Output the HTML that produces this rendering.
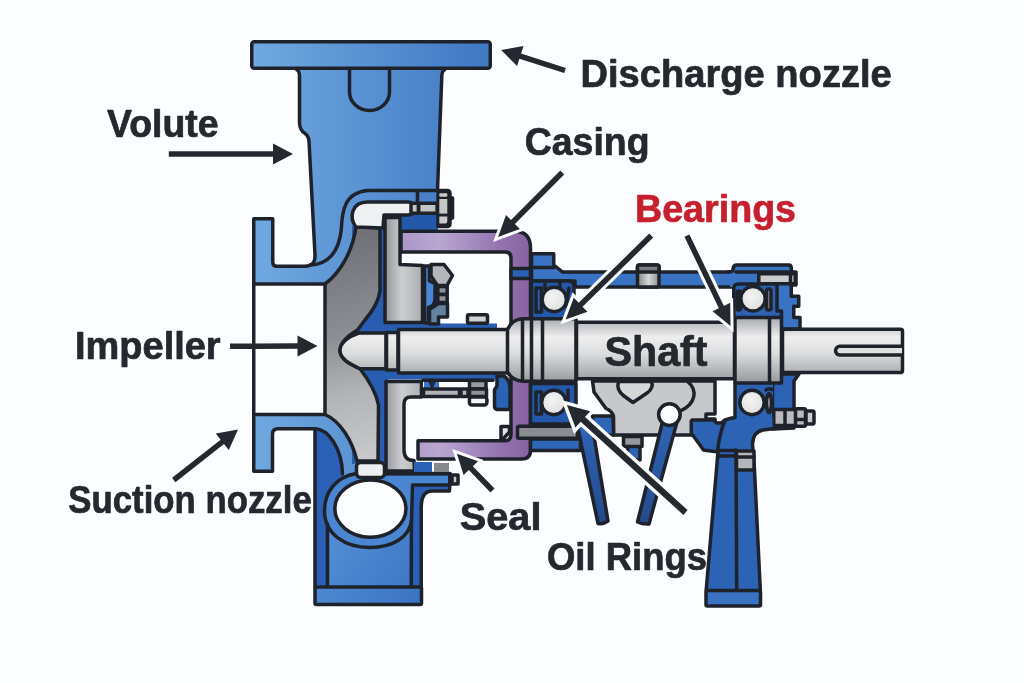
<!DOCTYPE html>
<html lang="en">
<head>
<meta charset="utf-8">
<title>Centrifugal pump cross-section</title>
<style>
html,body{margin:0;padding:0;background:#fcfdfe;}
body{width:1024px;height:683px;overflow:hidden;}
svg{display:block;will-change:transform;}
text{font-family:"Liberation Sans",sans-serif;font-weight:700;fill:#24282f;stroke-width:0.7;stroke-linejoin:round;}
.s{stroke:#1e232b;stroke-width:3.5;stroke-linejoin:round;stroke-linecap:round;}
.n{fill:none;}
</style>
</head>
<body>
<svg width="1024" height="683" viewBox="0 0 1024 683">
<defs>
<linearGradient id="gb" gradientUnits="userSpaceOnUse" x1="250" y1="0" x2="495" y2="0">
<stop offset="0" stop-color="#71a9e0"/><stop offset="1" stop-color="#3e77c3"/>
</linearGradient>
<linearGradient id="gb2" gradientUnits="userSpaceOnUse" x1="300" y1="500" x2="430" y2="600">
<stop offset="0" stop-color="#5b98dc"/><stop offset="1" stop-color="#3a72c2"/>
</linearGradient>
<linearGradient id="gsh" gradientUnits="userSpaceOnUse" x1="0" y1="318" x2="0" y2="382">
<stop offset="0" stop-color="#a9abaf"/><stop offset="0.3" stop-color="#eeeeef"/><stop offset="0.55" stop-color="#dcddde"/><stop offset="1" stop-color="#989a9e"/>
</linearGradient>
<linearGradient id="gimp" gradientUnits="userSpaceOnUse" x1="330" y1="230" x2="380" y2="460">
<stop offset="0" stop-color="#6d6f75"/><stop offset="0.45" stop-color="#8c8e93"/><stop offset="0.7" stop-color="#b2b4b7"/><stop offset="1" stop-color="#c8cacd"/>
</linearGradient>
<linearGradient id="gpl" gradientUnits="userSpaceOnUse" x1="385" y1="0" x2="423" y2="0">
<stop offset="0" stop-color="#94969a"/><stop offset="0.45" stop-color="#cdced0"/><stop offset="1" stop-color="#a9abae"/>
</linearGradient>
<linearGradient id="gpu" gradientUnits="userSpaceOnUse" x1="400" y1="0" x2="531" y2="0">
<stop offset="0" stop-color="#ab96c8"/><stop offset="0.3" stop-color="#b9a7d2"/><stop offset="0.75" stop-color="#9475b0"/><stop offset="1" stop-color="#86629f"/>
</linearGradient>
<radialGradient id="gball" cx="0.45" cy="0.4" r="0.7">
<stop offset="0" stop-color="#f4f4f4"/><stop offset="0.7" stop-color="#e2e3e4"/><stop offset="1" stop-color="#b8b9bc"/>
</radialGradient>
</defs>
<rect width="1024" height="683" fill="#fcfdfe"/>
<g id="casing">
<!-- blue body: neck + casing wall + suction flange upper -->
<path fill="url(#gb)" d="M299.5,69 L299.5,123 Q300,130.5 304.5,133 Q308.5,135.5 309,141 L315,255 Q315.5,266.25 305,266.25 L277,266.25 Q272.75,266.25 272.75,262 L272.75,218.75 L253.75,218.75 L253.75,284 L325,284 L386,284 L386,203 L438,203 L437.5,190.5 L442,69 Z"/>
<!-- stand dark body -->
<path fill="#2a60b6" d="M315,428.75 L345,428.75 L400,470 L450,473.75 L450,491 L432,491 Q421.25,492 421.25,507.5 L421.25,587 L315,587 Z"/>
<!-- lower suction flange + lower casing band -->
<path fill="url(#gb)" d="M253.75,414.5 L325,414.5 C340,420 352,440 357,462 L384,462 L384,474 L450,474 L450,484 L415,484 L343,480 L342.5,473 C342,455 336,440 325,431 Q320,428.75 315,428.75 L278,428.75 Q272.5,428.75 272.5,434 L272.5,471.25 L253.75,471.25 Z"/>
<path fill="url(#gb2)" d="M327.5,520 L411.25,520 L411.25,587 L327.5,587 Z"/>
<!-- ring -->
<path fill="#4a86d1" class="s" d="M356,473.5 C336,477 324.5,492 324.5,511 C324.5,534 345,547.5 370,547.5 C393,547.5 409,537 411.5,521 L412.5,485 L450,485 L450,473.5 Z"/>
<ellipse cx="370.4" cy="508.6" rx="35.6" ry="28.6" fill="#fcfdfe" class="s"/>
<!-- dark blue behind impeller -->
<rect x="352" y="226" width="36" height="238" fill="#295db2"/>
<rect x="385" y="323.5" width="112" height="56" fill="#295db2"/>
<!-- dark blue right of back plate top -->
<rect x="399" y="203" width="39" height="29" fill="#2458aa"/>
<rect x="414" y="191" width="24" height="13" fill="#4a80ca"/>
<!-- outlines -->
<rect x="251.75" y="41.75" width="238.5" height="26.5" rx="2.5" fill="url(#gb)" class="s"/>
<path class="s n" d="M297,70 Q299.5,71 299.5,76 L299.5,123 Q300,130.5 304.5,133 Q308.5,135.5 309,141 L315,255 Q315.5,266.25 305,266.25 L277,266.25 Q272.75,266.25 272.75,262 L272.75,218.75 L253.75,218.75 L253.75,471.25 L272.5,471.25 L272.5,434 Q272.5,428.75 278,428.75 L315,428.75 L315,587"/>
<path class="s n" d="M444.5,70 Q442,71 441.8,76 L437.5,190.5"/>
<path class="s n" d="M349.5,69 L349.5,92 A20,18.5 0 0 0 389.5,92 L389.5,69"/>
<path class="s n" d="M310,265 C327.5,265 338.75,252.5 341.25,230 C342,210 345,192.5 367.5,190.5 L437.5,190.5"/>
<path class="s n" d="M253.75,284 L325,284"/>
<path class="s n" d="M253.75,414.5 L325,414.5"/>
<path class="s n" d="M315,428.75 C328,429 342,448 342.5,474"/>
<path class="s n" d="M327.5,524 L327.5,587 M411.4,520 L411.25,587"/>
<path class="s n" d="M421.25,587 L421.25,507.5 Q421.25,491 432,491 L449.5,491 L450,473.75 L385,473.75"/>

<rect x="315" y="587" width="106.5" height="17.5" rx="1.5" fill="url(#gb2)" class="s"/>
</g>
<g id="impeller">
<!-- impeller -->
<path fill="url(#gimp)" class="s" d="M325,284 C341,272 353,250 356,226.5 L380,228 L380,291 C378.5,303 371,313 365,320 L357.5,330 C349,335 340,342 340,350.6 C340,359 350,364 360,368.75 C368.75,380 376,392.5 378.5,405 L378,461 L357,461 C352,440 340,421 325,414.5 Z"/>
<!-- white cavity top -->
<path fill="#eef0f1" class="s" d="M356,227 C349,218 351,202 367.5,202 L408,202 Q413.5,202 413.5,208.5 Q413.5,215 408,215 L384,215 L383,228 Z"/>
<!-- wear ring bottom -->
<rect x="356.5" y="462.5" width="28" height="15" rx="4" fill="#eceeef" class="s"/>
<!-- back plate upper -->
<path fill="url(#gpl)" class="s" d="M385,217.5 L400,217.5 L400,264.5 L422.5,265.5 L422.5,322.5 L385,322.5 Z"/>
<!-- back plate lower -->
<path fill="url(#gpl)" class="s" d="M386,381.5 L421.5,381.5 L421.5,397 L411,397 Q404,397 404,404 L404,450 Q404,460.5 414,460.5 L414.5,471 L386,471 Z"/>
<!-- bolt -->
<rect x="411" y="203.2" width="7.4" height="10" fill="#c4c6c8" class="s" stroke-width="2.6"/>
<rect x="418.7" y="203.2" width="18.4" height="10" fill="#c0c4c2" class="s" stroke-width="2.6"/>
<path class="s n" d="M417.5,191 L417.5,201.5"/>
<path fill="#1e232b" class="s" d="M438,190.5 L447,190.5 Q450,190.5 450,193.5 L450,197.5 L452.5,198 L452.5,218 L450,218.5 L450,223.5 Q450,226.5 447,226.5 L438,226.5 Z"/>
<rect x="439.3" y="193.2" width="8" height="3.6" rx="1" fill="#c9cbcd"/>
<rect x="439.3" y="199" width="8" height="14.6" fill="#c4c6c8"/>
<path fill="#c9cbcd" d="M439.3,216.6 L447.3,216.6 L447.3,221 Q447.3,223.6 444.5,223.6 L439.3,223.6 Z"/>
</g>
<g id="purple">
<path fill="url(#gpu)" class="s" d="M401,231.25 H514 Q530.5,231.25 530.5,248 V450 Q530.5,459 522,459 H418 V440.8 H505 Q511,440.8 511,434 V258 Q511,252 505,252 H401 Z"/>
<rect x="511" y="268.5" width="19.5" height="10" fill="#2c60b4" class="s"/>
<!-- seal gland upper -->
<path fill="#4a86d6" class="s" stroke-width="3" d="M424.5,266 L429.5,266 L429.5,281 L435,283.5 L435,299 Q434.5,306 428.5,307.5 L428.5,323 L424.5,323 Z"/>
<path fill="#64829f" class="s" stroke-width="3" d="M429.5,309 Q436,306 437.5,303.5 L447.5,303.5 L447.5,317 L438.5,317 L438.5,324 L429.5,324 Z"/>
<path fill="#b4b6b9" class="s" stroke-width="3" d="M431,264.5 L444,264.5 L452.5,275.5 L447,285.5 L437.5,285.5 L431,276 Z"/>
<rect x="437.8" y="286.5" width="9.4" height="8" fill="#8f9196" class="s" stroke-width="2.6"/>
<rect x="437.8" y="294.5" width="9.4" height="8" fill="#8f9196" class="s" stroke-width="2.6"/>
<rect x="467.5" y="314.8" width="20" height="8.5" rx="1.5" fill="#d0d2d4" class="s" stroke-width="3"/>
<!-- seal parts lower -->
<rect x="423" y="380" width="64" height="8" fill="#fcfdfe"/>
<path fill="#3d76c8" d="M424,381 h15 v7 h-15 Z"/>
<path fill="#1e232b" d="M428,381 l3,7 h2 l3,-7 Z" opacity="0.9"/>
<rect x="423.5" y="389" width="36" height="7.5" fill="#b0b2b6" class="s" stroke-width="2.6"/>
<rect x="461" y="389" width="7" height="7.5" fill="#b8babd" class="s" stroke-width="2.4"/>
<rect x="469.5" y="380.5" width="16.5" height="8.5" fill="#9a9ca1" class="s" stroke-width="2.6"/>
<rect x="469.5" y="389" width="17" height="7.5" fill="#8f9196" class="s" stroke-width="2.6"/>
<rect x="469.4" y="397" width="17.5" height="8" rx="2.5" fill="#f4f5f6" class="s" stroke-width="2.6"/>
<path class="s n" stroke-width="2.6" d="M423,380.3 L493,380.3"/>
<path fill="#2c62b4" class="s" stroke-width="3" d="M497,376 L504,376 Q510,380 510,388 L510,409.5 L497,409.5 Q494.5,409 494.5,406 L494.5,390 L497,386 Z"/>
<path fill="#e4e5e7" class="s" stroke-width="2.6" d="M501,426.5 L509.5,426.5 L509.5,432 L503,439 L501,439 Z"/>
<!-- under purple bottom -->
<rect x="414" y="462" width="18" height="10" fill="#2c60b4"/>
<rect x="434" y="463" width="15" height="9" fill="#85878c"/>
<rect x="452" y="475" width="6" height="9" fill="#c9cbcd" class="s" stroke-width="2.5"/>
</g>
<g id="housing">
<!-- left top box + band -->
<path fill="#3a72c4" class="s" d="M531.5,253.75 L553.75,253.75 L553.75,265 L562.5,272 L733,272 L733,287 L575,287 L575,281 L531.5,281 Z"/>
<path class="s n" d="M531.5,267.5 L553.75,267.5"/>
<!-- bearing box 1 upper -->
<path fill="#2458aa" class="s" d="M531.5,281 L568,281 Q574,281 574,287 L574,319 L531.5,319 Z"/>
<rect x="536" y="288" width="5.5" height="24" fill="#2a5cae" class="s" stroke-width="1.8"/>
<path class="s n" stroke-width="1.6" d="M545,284 v5 M560,283 v4 M569,288 l-3,18"/>
<circle cx="554.25" cy="299.5" r="12.2" fill="url(#gball)" class="s" stroke-width="2.8"/>
<!-- plug -->
<linearGradient id="gplug" gradientUnits="userSpaceOnUse" x1="638" y1="0" x2="659" y2="0"><stop offset="0" stop-color="#85878b"/><stop offset="0.5" stop-color="#d5d6d8"/><stop offset="1" stop-color="#8d8f93"/></linearGradient>
<rect x="637.5" y="265" width="21.5" height="22" rx="2" fill="url(#gplug)" class="s"/>
<rect x="637.5" y="265" width="21.5" height="7" rx="2" fill="#7b7d82" class="s" stroke-width="3"/>
<!-- right housing cap -->
<path fill="#3a72c4" d="M730,272 L733,268 Q733,265 736,265 L789,265 Q791.25,265 791.25,268 L791.25,272 L796,272 L796,285 L791.25,285 L791.25,296.25 L798.75,296.25 L798.75,306.25 L793.75,306.25 L793.75,317.5 L800,317.5 L800,329 L781.5,329 L781.5,318 L733.75,318 L733.75,287 L730,287 Z"/>
<path class="s n" d="M728,272 L731.5,271.5 Q733,271 733.2,268.5 Q733.5,265 737,265 L789,265 Q791.25,265 791.25,268 L791.25,272 L796,272 L796,285 L791.25,285 L791.25,296.25 L798.75,296.25 L798.75,306.25 L793.75,306.25 L793.75,317.5 L800,317.5 L800,329 L781.5,329"/>
<path class="s n" stroke-width="3" d="M736,272 L791,272"/>
<rect x="758.75" y="273.75" width="36.5" height="10" fill="#c9cbcd" class="s"/>
<path class="s n" stroke-width="2.2" d="M790.5,274 v10"/>
<!-- bearing box 2 upper -->
<path fill="#2d62b3" class="s" d="M733.75,289 Q733.75,284 738,284 L777,284 L777,311 L781.5,311 L781.5,318 L733.75,318 Z"/>
<rect x="737" y="291" width="3.5" height="19" rx="1.5" fill="#b0b2b6" class="s" stroke-width="2"/>
<rect x="766.5" y="289" width="4.5" height="21" rx="2" fill="#8d8f94" class="s" stroke-width="2"/>
<circle cx="753" cy="298.75" r="12.2" fill="url(#gball)" class="s" stroke-width="2.8"/>
<!-- lower right end cap -->
<path fill="#2d63b4" class="s" d="M772.5,374 L799,374 L794,381 L794,428 L772.5,429 Z"/>
<!-- bearing box 2 lower -->
<path fill="#2d63b4" d="M735,383.5 L773,383.5 L773,418 L735,418 Z"/>
<path class="s n" d="M735,417 L735,383.5"/>
<ellipse cx="769" cy="403" rx="2.4" ry="9.5" fill="#c9cbcd" class="s" stroke-width="2"/>
<path class="s n" stroke-width="2.4" d="M766,390 Q768,388 772,389.5"/>
<circle cx="752" cy="402.5" r="12.2" fill="url(#gball)" class="s" stroke-width="2.8"/>
<!-- bolt right -->
<rect x="773.75" y="409.5" width="22" height="16" fill="#b9bbbe" class="s"/>
<path class="s n" stroke-width="2.4" d="M785,410 v15"/>
<rect x="795.5" y="408.75" width="10" height="17.5" rx="1.5" fill="#b9bbbe" class="s"/>
<path class="s n" stroke-width="2.2" d="M796,419.5 h10"/>
<rect x="806" y="411" width="8" height="13" rx="1.5" fill="#c9cbcd" class="s"/>
<!-- bearing box 1 lower -->
<path fill="#2458aa" class="s" d="M530.5,383.5 L576,383.5 L576,424 L530.5,424 Z"/>
<rect x="536" y="392" width="5.5" height="22" fill="#2a5cae" class="s" stroke-width="1.8"/>
<path class="s n" stroke-width="2" d="M568,390 v20"/>
<circle cx="553.75" cy="402.5" r="12.2" fill="url(#gball)" class="s" stroke-width="2.8"/>
<rect x="530.5" y="439" width="50" height="11.5" fill="#2f66b8" class="s"/>
<rect x="517.5" y="426.25" width="60" height="12" rx="1.5" fill="#8a8c91" class="s"/>
<!-- grey block -->
<path fill="#2f66b8" class="s" d="M592.5,416 L613,416 L613.75,435 L592.5,435 Z"/>
<path fill="#c6c8cb" class="s" d="M592.5,381 L715,381 L715,414 L706,414 L706,419 L715,419 L715,435 L613.75,435 L613.5,416 Q612,411 606,408.5 L594,392 Z"/>
<path fill="#d6d7d9" class="s" stroke-width="2.8" d="M618.5,381.5 Q616,390 624,396 L633,402.5 L647,393 Q654,388 651.5,381.5 Z"/>
<path class="s n" stroke-width="2.8" d="M687.5,381.5 C698,390 696,404 680,411"/>
<rect x="627.5" y="446" width="12.5" height="14" fill="#2d63b6" class="s" stroke-width="2.5"/>
<rect x="623.5" y="436.5" width="18.5" height="10" fill="#96989d" class="s" stroke-width="2.5"/>
<!-- tubes -->
<linearGradient id="gt" gradientUnits="userSpaceOnUse" x1="0" y1="425" x2="0" y2="525"><stop offset="0" stop-color="#2d63b6"/><stop offset="1" stop-color="#25498a"/></linearGradient>
<path fill="url(#gt)" class="s" stroke-width="3" d="M577,424 L592,424 L608,521 Q603,524.5 598,523.5 Z"/>
<path fill="url(#gt)" class="s" stroke-width="3" d="M662.5,422 L677,422 L649,524 Q643,524.5 637.5,522 Z"/>
<circle cx="669.4" cy="414.6" r="10.8" fill="#fcfdfe" class="s" stroke-width="3.2"/>
<!-- leg -->
<path fill="#2d63b4" d="M692,420 L714,420 L716.5,423 L721,423 Q726,418.5 735,417 L772.5,417 L772.5,428.75 L763,430 Q753,432 752.5,444 L754.5,470 L760.3,590 L706.2,590 L718,452 L703.5,450 L700,445 L691.25,433 L691.25,421 Z"/>
<path class="s n" d="M735,417.5 Q726,418.5 721,423 L716.5,423 L714,420 L692,420 L691.25,421 L691.25,433 L700,445 L703.5,450 L718,452 L706.2,590"/>
<path class="s n" d="M794,427 L772.5,428.75 L763,430 Q753,432 752.5,444 L754.5,470 L760.3,590"/>
<path class="s n" d="M725,420 Q719,435 717.5,452"/>
<path class="s n" d="M717.5,450.5 L736,450.5 M717.5,456 L736,456"/>
<path class="s n" d="M736,450 L736.7,590"/>
<rect x="736.5" y="451" width="17.5" height="19" fill="#b4b6b9" class="s"/>
<path class="s n" stroke-width="2.4" d="M737,457 h17"/>
<rect x="706" y="590.5" width="54.5" height="15.5" rx="1.5" fill="#3a72c4" class="s"/>

</g>
<g id="shaft">
<!-- nose -->
<path fill="url(#gsh)" class="s" d="M358.75,333 L386,333 L386,368.75 L360,368.75 C350,364 340,359 340,350.6 C340,342 350,336 358.75,333 Z"/>
<rect x="386.5" y="332.5" width="11.5" height="37.5" fill="url(#gsh)" class="s"/>
<rect x="398.5" y="329.5" width="112" height="43.5" fill="url(#gsh)" class="s"/>
<!-- shoulder + bearing seat 1 -->
<path fill="url(#gsh)" class="s" d="M507.5,329.5 C511,322 516,319 522.5,318.75 L576,318.75 L576,381.25 L522.5,381.25 C516,381 511,378 507.5,372 Z"/>
<path class="s n" stroke-width="2.6" d="M522.5,319 L522.5,381 M531.5,319 L531.5,381 M542.5,319 L542.5,381"/>
<!-- main -->
<rect x="576.5" y="322.25" width="158" height="56.5" fill="url(#gsh)" class="s"/>
<!-- bearing seat 2 -->
<rect x="735" y="317.5" width="46.5" height="65.5" fill="url(#gsh)" class="s"/>
<path class="s n" stroke-width="2.6" d="M769.5,318 L769.5,383"/>
<!-- extension -->
<rect x="782.5" y="329.25" width="120" height="43.25" rx="2" fill="url(#gsh)" class="s"/>
<path class="s" fill="#dfe0e2" stroke-width="2.8" d="M902,346.25 L839.5,346.25 A4.4,4.4 0 0 0 839.5,355 L902,355"/>
</g>
<g id="labels">
<path d="M168.8,156.8 L273.0,156.8 L273.0,164.5 L293.0,154.0 L273.0,143.5 L273.0,151.2 L168.8,151.2 Z" fill="#24282f"/>
<path d="M565.8,67.9 L521.1,53.5 L523.5,46.1 L501.2,50.0 L517.1,66.1 L519.4,58.7 L564.2,73.1 Z" fill="#24282f"/>
<path d="M560.3,170.6 L511.0,220.1 L506.0,215.1 L498.1,236.9 L519.9,228.9 L514.9,224.0 L564.2,174.4 Z" fill="#fcfdfe" stroke="#fcfdfe" stroke-width="6.0" stroke-linejoin="miter"/>
<path d="M560.3,170.6 L511.0,220.1 L506.0,215.1 L498.1,236.9 L519.9,228.9 L514.9,224.0 L564.2,174.4 Z" fill="#24282f"/>
<path d="M649.3,233.6 L578.7,302.7 L573.8,297.7 L565.6,319.4 L587.5,311.7 L582.5,306.7 L653.2,237.6 Z" fill="#fcfdfe" stroke="#fcfdfe" stroke-width="6.0" stroke-linejoin="miter"/>
<path d="M649.3,233.6 L578.7,302.7 L573.8,297.7 L565.6,319.4 L587.5,311.7 L582.5,306.7 L653.2,237.6 Z" fill="#24282f"/>
<path d="M684.4,236.8 L718.9,308.3 L712.6,311.3 L730.5,326.0 L730.2,302.8 L723.9,305.9 L689.4,234.4 Z" fill="#fcfdfe" stroke="#fcfdfe" stroke-width="6.0" stroke-linejoin="miter"/>
<path d="M684.4,236.8 L718.9,308.3 L712.6,311.3 L730.5,326.0 L730.2,302.8 L723.9,305.9 L689.4,234.4 Z" fill="#24282f"/>
<path d="M230.0,349.0 L297.5,348.8 L297.5,356.6 L317.5,346.0 L297.5,335.6 L297.5,343.3 L230.0,343.5 Z" fill="#24282f"/>
<path d="M175.4,482.2 L224.0,444.0 L228.8,450.1 L238.0,429.5 L215.8,433.6 L220.6,439.7 L172.1,477.8 Z" fill="#24282f"/>
<path d="M494.5,488.6 L472.8,466.2 L478.0,461.2 L456.9,453.8 L463.6,475.1 L468.8,470.0 L490.5,492.4 Z" fill="#fcfdfe" stroke="#fcfdfe" stroke-width="6.0" stroke-linejoin="miter"/>
<path d="M494.5,488.6 L472.8,466.2 L478.0,461.2 L456.9,453.8 L463.6,475.1 L468.8,470.0 L490.5,492.4 Z" fill="#24282f"/>
<path d="M687.6,510.1 L585.0,417.1 L590.2,411.3 L566.9,405.0 L575.4,427.6 L580.7,421.8 L683.4,514.9 Z" fill="#fcfdfe" stroke="#fcfdfe" stroke-width="6.8" stroke-linejoin="miter"/>
<path d="M687.6,510.1 L585.0,417.1 L590.2,411.3 L566.9,405.0 L575.4,427.6 L580.7,421.8 L683.4,514.9 Z" fill="#24282f"/>
<text x="580.5" y="87" font-size="38.5" textLength="311.29" lengthAdjust="spacingAndGlyphs" fill="#24282f" stroke="#24282f" style="fill:#24282f">Discharge nozzle</text>
<text x="107.0" y="137" font-size="38.5" textLength="111.51" lengthAdjust="spacingAndGlyphs" fill="#24282f" stroke="#24282f" style="fill:#24282f">Volute</text>
<text x="524.75" y="155" font-size="38.5" textLength="124.85" lengthAdjust="spacingAndGlyphs" fill="#24282f" stroke="#24282f" style="fill:#24282f">Casing</text>
<text x="635.0" y="222" font-size="38.5" textLength="161.06" lengthAdjust="spacingAndGlyphs" fill="#c6202f" stroke="#c6202f" style="fill:#c6202f">Bearings</text>
<text x="604.5" y="365.6" font-size="42" textLength="103.01" lengthAdjust="spacingAndGlyphs" fill="#24282f" stroke="#24282f" style="fill:#24282f">Shaft</text>
<text x="75.0" y="358.75" font-size="38.5" textLength="145.63" lengthAdjust="spacingAndGlyphs" fill="#24282f" stroke="#24282f" style="fill:#24282f">Impeller</text>
<text x="68.25" y="512.5" font-size="38.5" textLength="243.53" lengthAdjust="spacingAndGlyphs" fill="#24282f" stroke="#24282f" style="fill:#24282f">Suction nozzle</text>
<text x="459.75" y="530" font-size="38.5" textLength="81.68" lengthAdjust="spacingAndGlyphs" fill="#24282f" stroke="#24282f" style="fill:#24282f">Seal</text>
<text x="547.0" y="569.5" font-size="38.5" textLength="160.03" lengthAdjust="spacingAndGlyphs" fill="#24282f" stroke="#24282f" style="fill:#24282f">Oil Rings</text>
</g>

</svg>
</body>
</html>
